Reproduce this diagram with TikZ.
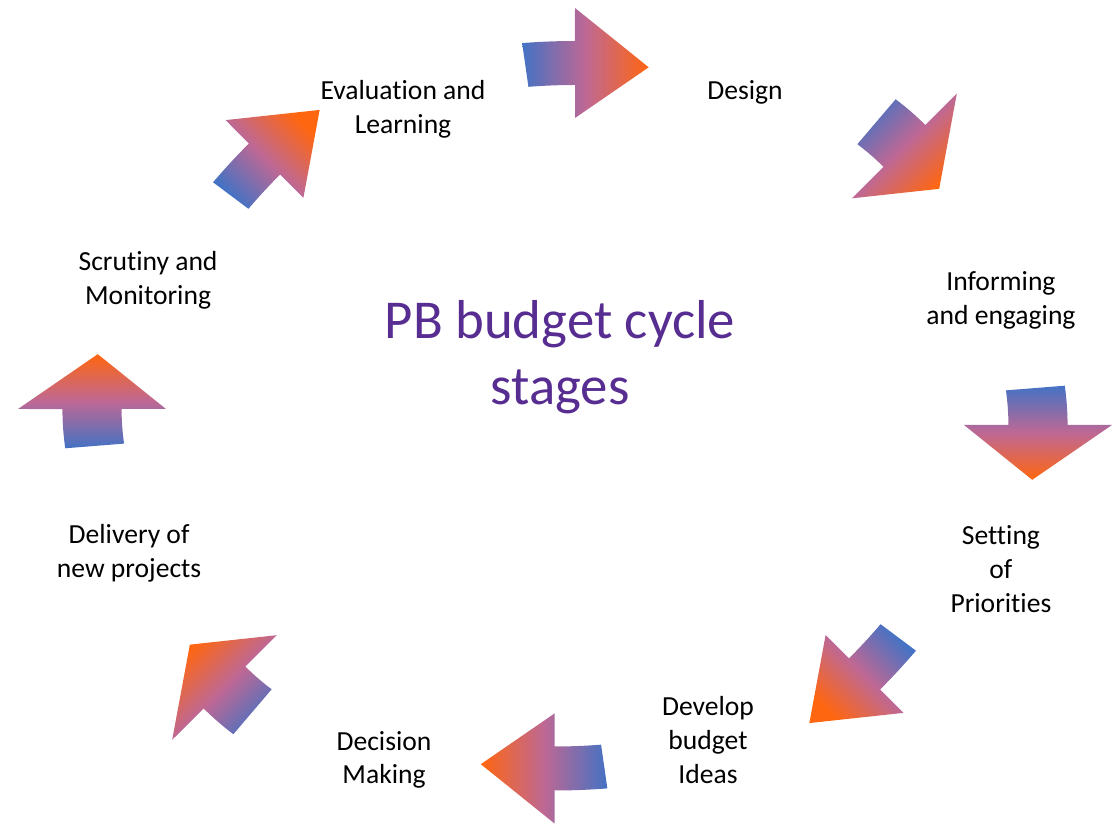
\documentclass[tikz,border=0pt]{standalone}
\usepackage{fontspec}
\setmainfont[Ligatures=NoCommon]{Carlito}
\usetikzlibrary{positioning}
\definecolor{cycblue}{RGB}{68,114,196}
\definecolor{cycmauve}{RGB}{190,104,148}
\definecolor{cycorange}{RGB}{255,102,16}
\definecolor{cycpurple}{RGB}{88,45,145}
\tikzset{
  stage/.style={align=center,inner sep=0pt,font=\fontsize{15.7}{19.3}\selectfont},
  heading/.style={align=center,inner sep=0pt,text=cycpurple,font=\fontsize{31.2}{37.5}\selectfont},
  arrowshade/.style={bottom color=cycblue,top color=cycorange,middle color=cycmauve,shading angle=#1},
  pics/cycarrow/.style={code={
    \shade[arrowshade=#1] (-39.3,19.9) arc[start angle=96.06,end angle=90,radius=372] -- (0,55) -- (54.8,-4.3) -- (0,-55) -- (0,-22) arc[start angle=90,end angle=96.06,radius=328] -- cycle;
  }}
}
\begin{document}
\begin{tikzpicture}[x=0.02cm,y=0.02cm,on grid]
    \useasboundingbox (0,0) rectangle (1117,825); %
    \node[heading] (title) at (560,468) {PB budget cycle\\stages}; %
    \node[stage, above right=5.3cm and 3.7cm of title] (design) {Design}; %
    \node[stage, above right=1.14cm and 8.82cm of title] (inform) {Informing\\and engaging};
    \node[stage, below right=4.24cm and 8.82cm of title] (setting) {Setting\\of\\Priorities};
    \node[stage, below right=7.66cm and 2.96cm of title] (develop) {Develop\\budget\\Ideas};
    \node[stage, below left=8.06cm and 3.52cm of title] (decision) {Decision\\Making};
    \node[stage, below left=3.92cm and 8.62cm of title] (delivery) {Delivery of\\new projects};
    \node[stage, above left=1.54cm and 8.24cm of title] (scrutiny) {Scrutiny and\\Monitoring};
    \node[stage, above left=4.96cm and 3.14cm of title] (evaluation) {Evaluation and\\Learning};
    \pic[xscale=1.345] at (575,762) {cycarrow=-90}; %
    \pic[rotate=-45,yscale=1.345] at (904.5,679) {cycarrow=-135};
    \pic[rotate=-90,yscale=1.345] at (1038,400) {cycarrow=-180};
    \pic[rotate=-135,xscale=1.345] at (864.5,151) {cycarrow=-225};
    \pic[rotate=180,xscale=1.345] at (554.5,56.5) {cycarrow=90};
    \pic[rotate=135,yscale=1.345] at (224.5,137.5) {cycarrow=45};
    \pic[rotate=90,yscale=1.345] at (92,416) {cycarrow=0};
    \pic[rotate=45,xscale=1.345] at (264.5,666) {cycarrow=-45};
  \end{tikzpicture}
\end{document}
